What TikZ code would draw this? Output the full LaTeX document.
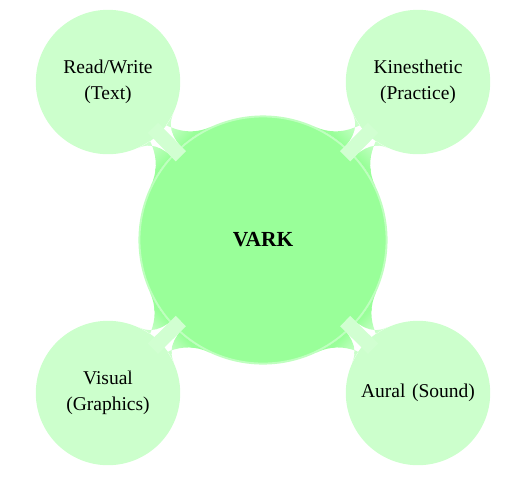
\documentclass[tikz,border=0pt]{standalone}
\usepackage{fontspec}
\setmainfont{Liberation Serif}
\usetikzlibrary{mindmap,calc}
\begin{document}
\begin{tikzpicture}[
  x=0.018cm, y=-0.018cm,
  hub/.style={circle, fill=green!40, draw=green!25, line width=1pt,
              minimum size=4.45cm, text centered,
              font=\bfseries\fontsize{11}{13}\selectfont},
  mode/.style={circle, fill=green!20, minimum size=2.6cm, text width=2.3cm,
               align=center, inner sep=0pt, font=\fontsize{10}{13.3}\selectfont},
  link/.style={circle connection bar switch color=from (green!40) to (green!20)},
  linkbar/.style={green!18, line width=0.26cm}
]
  \useasboundingbox (0,0) rectangle (518,482);

  \node[hub]  (vark) at (263,240) {VARK};
  \node[mode] (rw)   at (108,82)  {Read/Write\\(Text)};
  \node[mode] (kin)  at (418,82)  {Kinesthetic\\(Practice)};
  \node[mode] (vis)  at (108,393) {Visual\\(Graphics)};
  \node[mode] (aur)  at (418,393) {Aural (Sound)};

  \foreach \m in {rw,kin,vis,aur}{
    \path (vark) to[link] (\m);
    \draw[linkbar] ($(vark)!0.53!(\m)$) -- ($(vark)!0.71!(\m)$);
  }
\end{tikzpicture}
\end{document}
